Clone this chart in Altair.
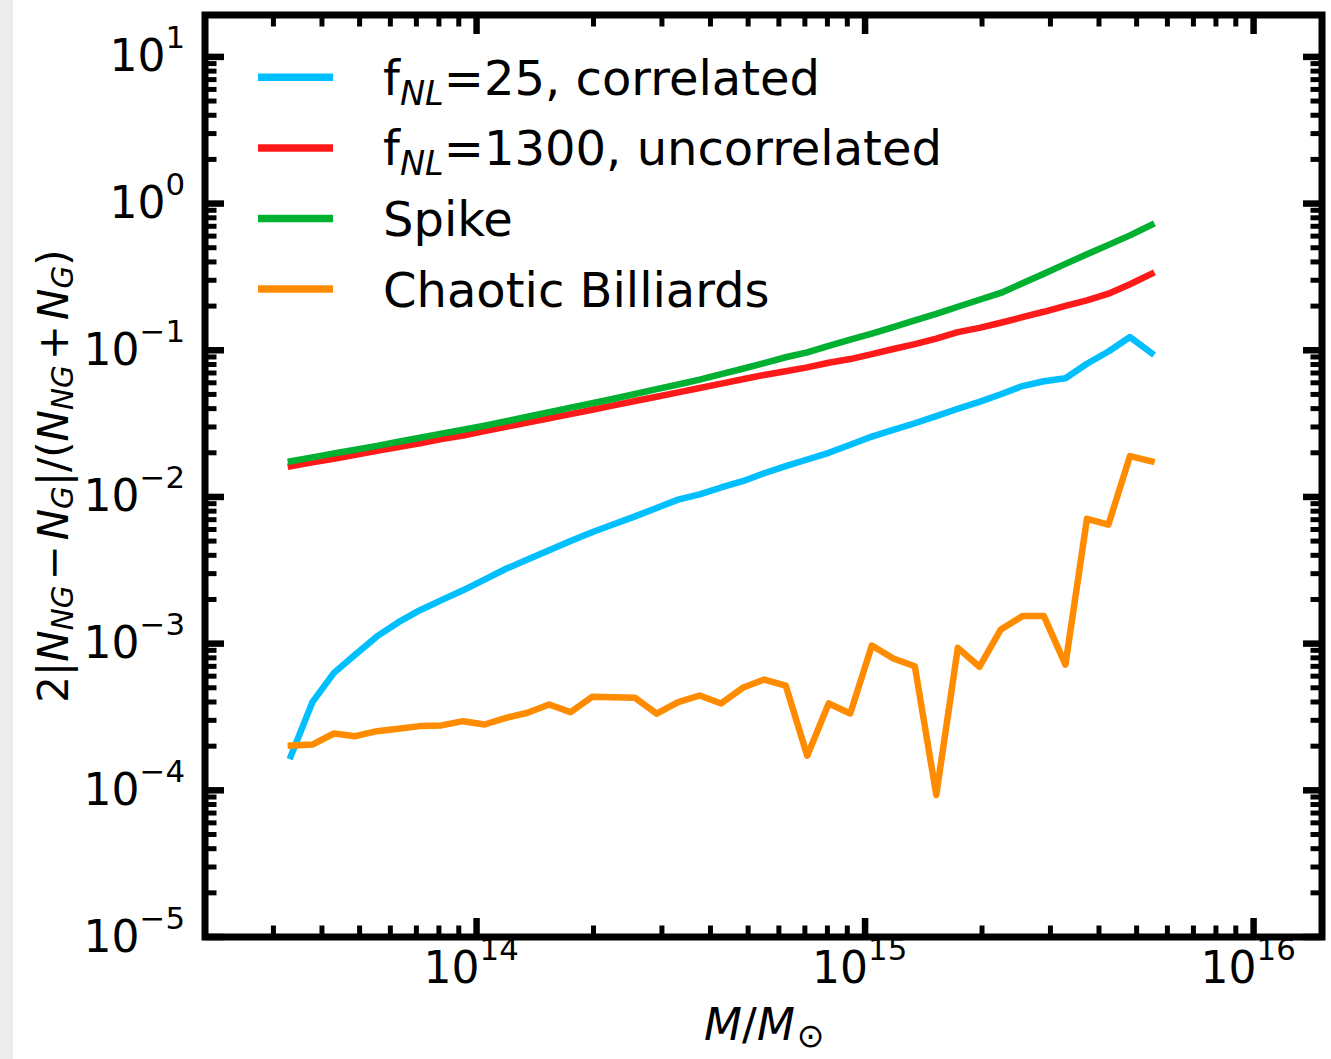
import altair as alt
import pandas as pd

# ---------------- data ----------------
mass = [3.327e13, 3.780e13, 4.294e13, 4.877e13, 5.540e13, 6.294e13, 7.150e13, 8.122e13, 9.227e13,
        1.048e14, 1.191e14, 1.353e14, 1.537e14, 1.746e14, 1.983e14, 2.253e14, 2.559e14, 2.907e14,
        3.303e14, 3.752e14, 4.262e14, 4.842e14, 5.500e14, 6.248e14, 7.098e14, 8.063e14, 9.160e14,
        1.041e15, 1.182e15, 1.343e15, 1.525e15, 1.733e15, 1.969e15, 2.236e15, 2.541e15, 2.886e15,
        3.279e15, 3.725e15, 4.231e15, 4.807e15, 5.461e15]

fnl25_correlated = [1.71e-4, 3.99e-4, 6.32e-4, 8.43e-4, 1.12e-3, 1.40e-3, 1.69e-3, 1.98e-3, 2.31e-3, 2.73e-3,
                    3.24e-3, 3.74e-3, 4.33e-3, 5.01e-3, 5.74e-3, 6.51e-3, 7.37e-3, 8.42e-3, 9.59e-3, 1.04e-2,
                    1.16e-2, 1.28e-2, 1.45e-2, 1.62e-2, 1.80e-2, 2.00e-2, 2.27e-2, 2.58e-2, 2.87e-2, 3.18e-2,
                    3.56e-2, 3.99e-2, 4.45e-2, 5.01e-2, 5.70e-2, 6.15e-2, 6.45e-2, 8.09e-2, 9.81e-2, 0.123,
                    0.0957]

fnl1300_uncorrelated = [0.0162, 0.0172, 0.0182, 0.0194, 0.0206, 0.0219, 0.0232, 0.0248, 0.0262, 0.0281,
                        0.0301, 0.0321, 0.0344, 0.0367, 0.0393, 0.0421, 0.0451, 0.0482, 0.0516, 0.0553,
                        0.0592, 0.0634, 0.0678, 0.0719, 0.0764, 0.0822, 0.0871, 0.0940, 0.102, 0.110,
                        0.120, 0.133, 0.142, 0.154, 0.168, 0.183, 0.201, 0.219, 0.243, 0.282, 0.332]

spike = [0.0175, 0.0186, 0.0198, 0.0210, 0.0223, 0.0238, 0.0253, 0.0270, 0.0287, 0.0306,
         0.0328, 0.0352, 0.0378, 0.0406, 0.0435, 0.0467, 0.0503, 0.0543, 0.0584, 0.0630,
         0.0687, 0.0748, 0.0818, 0.0896, 0.0968, 0.107, 0.118, 0.130, 0.144, 0.160,
         0.177, 0.198, 0.221, 0.246, 0.286, 0.332, 0.388, 0.451, 0.523, 0.607, 0.716]

chaotic_billiards = [2.02e-4, 2.05e-4, 2.44e-4, 2.34e-4, 2.53e-4, 2.63e-4, 2.74e-4, 2.77e-4, 2.96e-4, 2.81e-4,
                     3.12e-4, 3.38e-4, 3.85e-4, 3.41e-4, 4.34e-4, 4.31e-4, 4.27e-4, 3.33e-4, 3.99e-4, 4.43e-4,
                     3.91e-4, 5.00e-4, 5.69e-4, 5.18e-4, 1.72e-4, 3.91e-4, 3.34e-4, 9.7e-4, 7.92e-4, 7.01e-4,
                     9.3e-5, 9.36e-4, 6.95e-4, 1.25e-3, 1.54e-3, 1.54e-3, 7.2e-4, 7.1e-3, 6.48e-3, 1.9e-2,
                     1.75e-2]

series_keys = ["fnl25", "fnl1300", "spike", "chaotic"]
series_values = [fnl25_correlated, fnl1300_uncorrelated, spike, chaotic_billiards]
series_colors = ["#00BFFF", "#FF1A1A", "#00B030", "#FF8C00"]

x_major = [1e14, 1e15, 1e16]
x_minor = [k * 10.0 ** e for e in (13, 14, 15) for k in range(2, 10) if 2e13 < k * 10.0 ** e < 1.5e16]
y_major = [1e-5, 1e-4, 1e-3, 1e-2, 1e-1, 1e0, 1e1]
y_minor = [k * 10.0 ** e for e in range(-5, 1) for k in range(2, 10)]
tick_base = "10"
x_tick_exponents = ["14", "15", "16"]
y_tick_exponents = ["−5", "−4", "−3", "−2", "−1", "0", "1"]

# ---------------- layout ----------------
W, H = 1117, 922
FONT = "DejaVu Sans"
TICK_FS = 44
SUP_FS = 0.7 * TICK_FS
xscale = alt.Scale(type="log", domain=[2e13, 1.5e16], nice=False)
yscale = alt.Scale(type="log", domain=[1e-5, 19.3], nice=False)

# DejaVu Sans advance widths (em)
ADV = {"2": 0.636, "|": 0.337, "N": 0.748, "G": 0.775, "L": 0.557, "−": 0.838, "+": 0.838,
       "/": 0.337, "(": 0.390, ")": 0.390, "f": 0.352, "M": 0.863}
for dgt in "0123456789":
    ADV[dgt] = 0.636


def width(s, size):
    return sum(ADV[c] for c in s) * size


layers = []

# light grey page edge seen at the far left of the reference
layers.append(alt.Chart(pd.DataFrame({"a": [0]})).mark_rect(color="#ececec").encode(
    x=alt.value(-205), x2=alt.value(-192), y=alt.value(-15), y2=alt.value(H + 122)))

# data lines
for key, vals, col in zip(series_keys, series_values, series_colors):
    d = pd.DataFrame({"M": mass, "value": vals})
    layers.append(
        alt.Chart(d).mark_line(color=col, strokeWidth=6.5, strokeJoin="round", strokeCap="square").encode(
            x=alt.X("M:Q", scale=xscale, axis=None),
            y=alt.Y("value:Q", scale=yscale, axis=None),
        )
    )


# inward ticks on all four sides
def xticks(vals, length, w):
    d = pd.DataFrame({"t": vals})
    out = []
    for y0, y1 in ((H, H - length), (0, length)):
        out.append(alt.Chart(d).mark_rule(color="black", strokeWidth=w).encode(
            x=alt.X("t:Q", scale=xscale, axis=None), y=alt.value(y0), y2=alt.value(y1)))
    return out


def yticks(vals, length, w):
    d = pd.DataFrame({"t": vals})
    out = []
    for x0, x1 in ((0, length), (W, W - length)):
        out.append(alt.Chart(d).mark_rule(color="black", strokeWidth=w).encode(
            y=alt.Y("t:Q", scale=yscale, axis=None), x=alt.value(x0), x2=alt.value(x1)))
    return out


layers += xticks(x_major, 19, 6.5) + xticks(x_minor, 11.5, 5)
layers += yticks(y_major, 19, 6.5) + yticks(y_minor, 11.5, 5)

# x tick labels "10" + raised exponent, placed through the x scale
xl = pd.DataFrame({"t": x_major, "base": [tick_base] * len(x_major), "exp": x_tick_exponents})
layers.append(alt.Chart(xl).mark_text(font=FONT, fontSize=TICK_FS, color="black", align="right",
                                      baseline="alphabetic", dx=3).encode(
    x=alt.X("t:Q", scale=xscale, axis=None), y=alt.value(983 - 15), text="base:N"))
layers.append(alt.Chart(xl).mark_text(font=FONT, fontSize=SUP_FS, color="black", align="left",
                                      baseline="alphabetic", dx=3).encode(
    x=alt.X("t:Q", scale=xscale, axis=None), y=alt.value(960 - 15), text="exp:N"))

# y tick labels, right-aligned as a whole, placed through the y scale
for v, e in zip(y_major, y_tick_exponents):
    d = pd.DataFrame({"t": [v], "base": [tick_base], "exp": [e]})
    xa = -20 - width(e, SUP_FS)
    layers.append(alt.Chart(d).mark_text(font=FONT, fontSize=TICK_FS, color="black", align="right",
                                         baseline="alphabetic", dy=14.5).encode(
        y=alt.Y("t:Q", scale=yscale, axis=None), x=alt.value(xa), text="base:N"))
    layers.append(alt.Chart(d).mark_text(font=FONT, fontSize=SUP_FS, color="black", align="left",
                                         baseline="alphabetic", dy=-8.5).encode(
        y=alt.Y("t:Q", scale=yscale, axis=None), x=alt.value(xa), text="exp:N"))


# text helper
def txt(s, x, y, size, italic=False, angle=0, baseline="alphabetic"):
    kw = dict(text=s, font=FONT, fontSize=size, color="black", align="left", baseline=baseline)
    if italic:
        kw["fontStyle"] = "italic"
    if angle:
        kw["angle"] = angle
    return alt.Chart(pd.DataFrame({"a": [0]})).mark_text(**kw).encode(x=alt.value(x), y=alt.value(y))


# legend
legend_labels = [
    [("f", False, False), ("NL", True, True), ("=25, correlated", False, False)],
    [("f", False, False), ("NL", True, True), ("=1300, uncorrelated", False, False)],
    [("Spike", False, False)],
    [("Chaotic Billiards", False, False)],
]
LEG_FS = 48
LEG_SUB = 0.7 * LEG_FS
for i, (parts, col) in enumerate(zip(legend_labels, series_colors)):
    cy = 62.3 + 70.6 * i
    layers.append(alt.Chart(pd.DataFrame({"a": [0]})).mark_rule(color=col, strokeWidth=7.5).encode(
        x=alt.value(53), x2=alt.value(128), y=alt.value(cy)))
    xpos = 178
    for s, ital, sub in parts:
        fs = LEG_SUB if sub else LEG_FS
        layers.append(txt(s, xpos, cy + 17.5 + (10 if sub else 0), fs, italic=ital))
        if all(c in ADV for c in s):
            xpos += width(s, fs)

# y axis title pieces (reads bottom to top), laid out with font advances
TF = 42
TS = 0.7 * TF
OPSP = 0.12 * TF
ytitle = [("2|", False, False), ("N", True, False), ("NG", True, True), ("−", False, False),
          ("N", True, False), ("G", True, True), ("|/(", False, False), ("N", True, False),
          ("NG", True, True), ("+", False, False), ("N", True, False), ("G", True, True),
          (")", False, False)]
total = sum(width(s, TS if sub else TF) + (2 * OPSP if s in ("−", "+") else 0) for s, _, sub in ytitle)
pos = H / 2 + total / 2          # start (bottom) of the title, centred on the plot
base_x = 68 - 205
for s, ital, sub in ytitle:
    if s in ("−", "+"):
        pos -= OPSP
    layers.append(txt(s, base_x + (5 if sub else 0), pos, TS if sub else TF, italic=ital, angle=270))
    pos -= width(s, TS if sub else TF)
    if s in ("−", "+"):
        pos -= OPSP

# x axis title pieces
XS = 0.75 * TICK_FS
xtitle = [("M", True, False), ("/", False, False), ("M", True, False)]
xw = sum(width(s, TICK_FS) for s, _, _ in xtitle) + 0.85 * XS
xp = W / 2 - xw / 2
for s, ital, sub in xtitle:
    layers.append(txt(s, xp, 1040 - 15, TICK_FS, italic=ital))
    xp += width(s, TICK_FS)
layers.append(txt("⊙", xp + 2, 1040 - 15 + 7, XS))

chart = alt.layer(*layers).properties(
    width=W, height=H,
    padding={"left": 205, "top": 15, "right": 9, "bottom": 122},
    autosize=alt.AutoSizeParams(type="none"),
    background="white",
).configure_view(stroke="black", strokeWidth=7)

chart.save("out.html", embed_options={"renderer": "svg", "actions": False})
